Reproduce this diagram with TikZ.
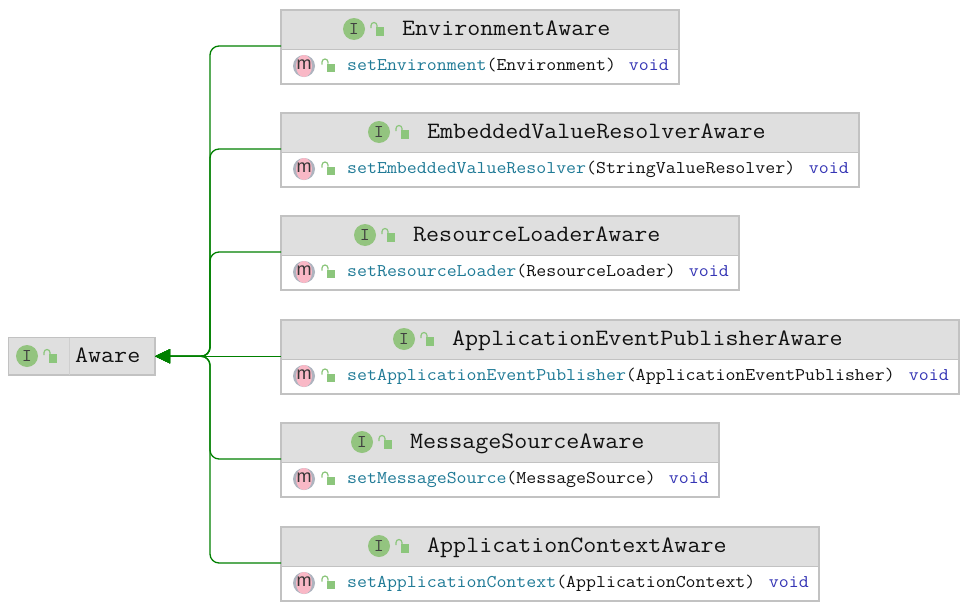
\documentclass[tikz,border=0pt]{standalone}
\usepackage{fontspec}
\setmainfont[FakeStretch=1.08]{Latin Modern Mono}
\newfontfamily\iconfont{Liberation Sans}
\usetikzlibrary{arrows.meta,shapes.geometric}
\definecolor{hdr}{HTML}{DFDFDF}
\definecolor{bord}{HTML}{C2C2C2}
\definecolor{igreen}{HTML}{93C47F}
\definecolor{lockg}{HTML}{8CC67C}
\definecolor{mpink}{HTML}{F9B8C6}
\definecolor{mgray}{HTML}{AEB4BF}
\definecolor{methc}{HTML}{1F7A96}
\definecolor{voidc}{HTML}{3535B5}
\definecolor{edgec}{HTML}{008000}
\definecolor{ink}{HTML}{111111}
\tikzset{
  boxbody/.style={fill=white,inner sep=0pt,outer sep=0pt,anchor=north west},
  titletext/.style={font=\fontsize{23.4}{26}\selectfont,text=ink,anchor=base west,inner sep=0pt},
  methtext/.style={font=\fontsize{17.9}{21}\selectfont,text=ink,anchor=base west,inner sep=0pt},
  voidtext/.style={font=\fontsize{17.9}{21}\selectfont,text=voidc,anchor=base east,inner sep=0pt},
  ibadge/.style={circle,fill=igreen,minimum size=22pt,inner sep=0pt,text=black!75,font=\fontsize{18}{18}\selectfont},
  edgeline/.style={draw=edgec,line width=1.3pt,rounded corners=9pt},
  arrowline/.style={edgeline,-{Triangle[length=15pt,width=14pt,fill=edgec]}},
  lock/.pic={
    \fill[lockg] (0,-2) rectangle (8,6.5);
    \draw[lockg,line width=1.2pt] (-5,-1) -- (-5,-3.5) arc[start angle=180,end angle=360,radius=3] -- (1,-2);
  }
}
\newcommand{\classbox}[7]{% name, right, top, icon x, title, method, params
  \node[boxbody,minimum width={(#2-281)*1pt},minimum height=74pt] (#1) at (281,#3) {};
  \fill[hdr] (281,#3) rectangle (#2,#3+39);
  \draw[bord,line width=1pt] (#1.west |- 0,#3+39.5) -- (#1.east |- 0,#3+39.5);
  \draw[bord,line width=1.2pt] (#1.south west) rectangle (#1.north east);
  \node[ibadge] (#1-i) at (#4,#3+19) {I};
  \pic at (#4+22,#3+19) {lock};
  \node[titletext] (#1-t) at (#4+48,#3+25) {#5};
  \node[circle,fill=mgray,minimum size=22pt,inner sep=0pt] (#1-mb) at (304,#3+56) {};
  \fill[mpink] (304,#3+56) ellipse[x radius=8,y radius=11];
  \node[inner sep=0pt,text=black!80,font=\iconfont\fontsize{18}{18}\selectfont] (#1-m) at (304,#3+55) {m};
  \pic at (327,#3+55.5) {lock};
  \node[methtext] (#1-s) at (347,#3+60.5) {\textcolor{methc}{#6}(#7)};
  \node[voidtext] (#1-v) at (#2-10,#3+60.5) {void};
}
\begin{document}
\begin{tikzpicture}[x=1pt,y=-1pt]
\useasboundingbox (0,0) rectangle (969,613);
\fill[white] (0,0) rectangle (969,613);
% root
\node[boxbody,draw=bord,line width=1.2pt,fill=hdr,minimum width=146.5pt,minimum height=37.5pt] (aware) at (8.5,337.5) {};
\coordinate (awaresplit) at (69,338);
\coordinate (awaresplitb) at (69,375);
\draw[hdr!93!black,line width=0.8pt] (awaresplit) -- (awaresplitb);
\node[ibadge] (aware-i) at (27,356) {I};
\pic at (49,356) {lock};
\node[titletext] (aware-t) at (75,362) {Aware};
% classes
\classbox{env}{679}{10}{354}{EnvironmentAware}{setEnvironment}{Environment}
\classbox{emb}{859}{113}{379}{EmbeddedValueResolverAware}{setEmbeddedValueResolver}{StringValueResolver}
\classbox{res}{739}{216}{365}{ResourceLoaderAware}{setResourceLoader}{ResourceLoader}
\classbox{pub}{959}{320}{404}{ApplicationEventPublisherAware}{setApplicationEventPublisher}{ApplicationEventPublisher}
\classbox{msg}{719}{423}{362}{MessageSourceAware}{setMessageSource}{MessageSource}
\classbox{ctx}{819}{527}{379}{ApplicationContextAware}{setApplicationContext}{ApplicationContext}
% connectors
\coordinate (trunk) at (aware.east -| 210,0);
\foreach \n in {env,emb,res,msg,ctx}{
  \draw[arrowline] ([yshift=1pt]\n.west) -- ([yshift=1pt]\n.west -| trunk) -- (trunk) -- (aware.east);
}
\draw[arrowline] (pub.west |- aware.east) -- (aware.east);
\end{tikzpicture}
\end{document}
